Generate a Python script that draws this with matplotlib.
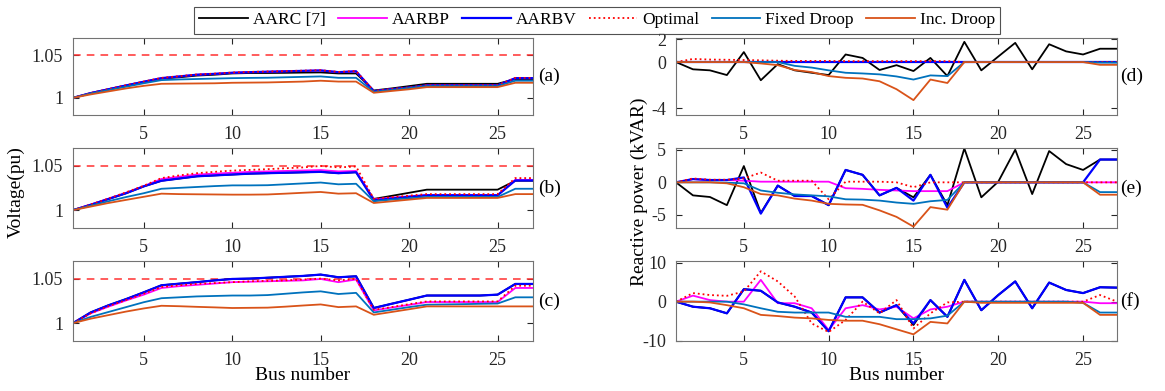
#!/usr/bin/env python3
# -*- coding:utf-8 -*-
import matplotlib
matplotlib.use('Agg')
import matplotlib.pyplot as plt

bus = list(range(1, 28))
names = ['AARC [7]', 'AARBP', 'AARBV', 'Optimal', 'Fixed Droop', 'Inc. Droop']

# voltage (pu), case (a)
va_aarc = [1.000, 1.0055, 1.010, 1.0143, 1.0185, 1.0225, 1.024, 1.026, 1.027, 1.0285, 1.029, 1.029, 1.0292, 1.0295,
           1.0297, 1.0285, 1.0285, 1.0086, 1.011, 1.0137, 1.0164, 1.0164, 1.0164, 1.0164, 1.0164, 1.022, 1.022]
va_aarbp = [1.000, 1.0055, 1.010, 1.0145, 1.0188, 1.023, 1.025, 1.027, 1.028, 1.0293, 1.030, 1.0305, 1.031, 1.0315,
            1.032, 1.030, 1.031, 1.0078, 1.010, 1.012, 1.0145, 1.0145, 1.0145, 1.0145, 1.0145, 1.023, 1.023]
va_aarbv = [1.000, 1.0055, 1.010, 1.0145, 1.0188, 1.023, 1.025, 1.027, 1.028, 1.0293, 1.030, 1.0305, 1.031, 1.0315,
            1.032, 1.030, 1.031, 1.0078, 1.010, 1.012, 1.0145, 1.0145, 1.0145, 1.0145, 1.0145, 1.023, 1.023]
va_opt = [1.000, 1.0056, 1.0102, 1.0147, 1.019, 1.0233, 1.0253, 1.0273, 1.0283, 1.0296, 1.0303, 1.0308, 1.0313,
          1.0318, 1.0323, 1.0303, 1.0313, 1.008, 1.0102, 1.0122, 1.0147, 1.0147, 1.0147, 1.0147, 1.0147, 1.0233, 1.0233]
va_fixed = [1.000, 1.005, 1.009, 1.013, 1.017, 1.0207, 1.0215, 1.022, 1.0225, 1.023, 1.0233, 1.0235, 1.024, 1.0245,
            1.025, 1.0234, 1.0234, 1.007, 1.009, 1.0115, 1.0137, 1.0137, 1.0137, 1.0137, 1.0137, 1.020, 1.020]
va_inc = [1.000, 1.004, 1.0075, 1.011, 1.014, 1.0164, 1.0166, 1.0168, 1.017, 1.0176, 1.0178, 1.018, 1.0185, 1.019,
          1.020, 1.019, 1.019, 1.0059, 1.008, 1.010, 1.0125, 1.0125, 1.0125, 1.0125, 1.0125, 1.0176, 1.0176]

# voltage (pu), case (b)
vb_aarc = [1.000, 1.006, 1.0125, 1.019, 1.0267, 1.033, 1.0355, 1.038, 1.039, 1.040, 1.041, 1.0415, 1.042, 1.0425,
           1.043, 1.0415, 1.0426, 1.0126, 1.016, 1.0195, 1.023, 1.023, 1.023, 1.023, 1.023, 1.033, 1.033]
vb_aarbp = [1.000, 1.0063, 1.0128, 1.0195, 1.027, 1.035, 1.0375, 1.040, 1.041, 1.042, 1.043, 1.0435, 1.044, 1.0445,
            1.045, 1.0435, 1.044, 1.012, 1.014, 1.0155, 1.017, 1.017, 1.017, 1.017, 1.017, 1.034, 1.034]
vb_aarbv = [1.000, 1.006, 1.0125, 1.019, 1.0267, 1.033, 1.0355, 1.038, 1.039, 1.040, 1.041, 1.0415, 1.042, 1.0425,
            1.043, 1.0415, 1.0426, 1.011, 1.013, 1.015, 1.0167, 1.0167, 1.0167, 1.0167, 1.0167, 1.0333, 1.0333]
vb_opt = [1.000, 1.0063, 1.013, 1.020, 1.0274, 1.036, 1.039, 1.0415, 1.043, 1.0444, 1.0452, 1.046, 1.047, 1.048,
          1.0496, 1.048, 1.049, 1.0126, 1.0145, 1.0163, 1.018, 1.018, 1.018, 1.018, 1.018, 1.036, 1.036]
vb_fixed = [1.000, 1.005, 1.010, 1.0147, 1.019, 1.024, 1.025, 1.026, 1.027, 1.0278, 1.0278, 1.028, 1.029, 1.030,
            1.031, 1.029, 1.0296, 1.010, 1.0118, 1.0133, 1.0148, 1.0148, 1.0148, 1.0148, 1.0148, 1.024, 1.024]
vb_inc = [1.000, 1.004, 1.008, 1.0115, 1.015, 1.0185, 1.018, 1.0178, 1.0176, 1.0174, 1.0174, 1.0176, 1.0185, 1.0195,
          1.0204, 1.0185, 1.019, 1.008, 1.0099, 1.0118, 1.0137, 1.0137, 1.0137, 1.0137, 1.0137, 1.018, 1.018]

# voltage (pu), case (c)
vc_aarc = [1.000, 1.012, 1.020, 1.027, 1.0346, 1.0425, 1.0443, 1.046, 1.048, 1.0496, 1.050, 1.051, 1.052, 1.053,
           1.0545, 1.0515, 1.0526, 1.017, 1.0217, 1.0263, 1.031, 1.031, 1.031, 1.031, 1.032, 1.044, 1.044]
vc_aarbp = [1.000, 1.011, 1.0185, 1.0255, 1.032, 1.0395, 1.0415, 1.043, 1.0445, 1.046, 1.0465, 1.047, 1.0475, 1.048,
            1.0496, 1.046, 1.049, 1.0143, 1.0175, 1.0205, 1.0237, 1.0237, 1.0237, 1.0237, 1.0237, 1.0395, 1.0395]
vc_aarbv = [1.000, 1.012, 1.020, 1.027, 1.0346, 1.0425, 1.0443, 1.046, 1.048, 1.0496, 1.050, 1.051, 1.052, 1.053,
            1.0545, 1.0515, 1.0526, 1.017, 1.0217, 1.0263, 1.031, 1.031, 1.031, 1.031, 1.032, 1.044, 1.044]
vc_opt = [1.000, 1.011, 1.019, 1.026, 1.033, 1.0406, 1.0425, 1.044, 1.045, 1.046, 1.047, 1.0475, 1.048, 1.049,
          1.050, 1.048, 1.0497, 1.015, 1.018, 1.0213, 1.0244, 1.0244, 1.0244, 1.0244, 1.0244, 1.042, 1.042]
vc_fixed = [1.000, 1.007, 1.0125, 1.018, 1.0235, 1.028, 1.029, 1.030, 1.0305, 1.031, 1.031, 1.0315, 1.033, 1.0345,
            1.0357, 1.0327, 1.034, 1.012, 1.015, 1.018, 1.0207, 1.021, 1.0213, 1.0217, 1.022, 1.029, 1.029]
vc_inc = [1.000, 1.005, 1.009, 1.013, 1.0165, 1.0195, 1.019, 1.0183, 1.0177, 1.017, 1.0172, 1.0174, 1.0185, 1.0198,
          1.021, 1.018, 1.0188, 1.0094, 1.0125, 1.0156, 1.0188, 1.0188, 1.0188, 1.0188, 1.0188, 1.0188, 1.0188]

# reactive power (kVAR), case (d)
qd_aarc = [0, -0.63, -0.72, -1.13, 0.87, -1.58, -0.18, -0.72, -0.93, -1.13, 0.66, 0.36, -0.69, -0.27, -0.78, 0.36,
           -1.22, 1.76, -0.72, 0.48, 1.67, -0.63, 1.55, 0.93, 0.66, 1.16, 1.16]
qd_aarbp = [0] * 27
qd_aarbv = [0] * 27
qd_opt = [0, 0.27, 0.22, 0.2, 0.18, 0.15, 0.12, 0.1, 0.1, 0.1, 0.08, 0.08, 0.08, 0.08, 0.08, 0.08, 0.08, 0, 0, 0, 0,
          0, 0, 0, 0, 0, 0]
qd_fixed = [0, 0, 0, 0, 0, 0, 0, -0.33, -0.48, -0.72, -0.93, -0.99, -1.07, -1.25, -1.52, -1.16, -1.22, 0, 0, 0, 0, 0,
            0, 0, 0, -0.05, -0.05]
qd_inc = [0, 0, 0, 0, 0, -0.12, -0.27, -0.69, -0.87, -1.22, -1.37, -1.43, -1.67, -2.36, -3.31, -1.52, -1.82, 0, 0, 0,
          0, 0, 0, 0, 0, -0.24, -0.24]

# reactive power (kVAR), case (e)
qe_aarc = [0, -2.0, -2.25, -3.5, 2.5, -4.7, -0.5, -2.1, -2.1, -3.5, 1.9, 1.15, -2.0, -0.85, -2.3, 1.15, -3.5, 5.2,
           -2.3, 0.1, 5.0, -1.8, 4.8, 2.8, 1.9, 3.5, 3.5]
qe_aarbp = [0, 0.5, 0.35, 0.35, 0.25, 0.1, 0.1, 0.1, 0.1, 0.1, -0.9, -1.0, -1.15, -1.25, -1.35, -1.35, -1.35, 0, 0,
            0, 0, 0, 0, 0, 0, 0, 0]
qe_aarbv = [0, 0.5, 0.35, 0.35, 0.75, -4.8, -0.5, -2.1, -2.1, -3.5, 1.9, 1.15, -2.0, -0.85, -2.8, 1.15, -3.9, 0, 0,
            0, 0, 0, 0, 0, 0, 3.5, 3.5]
qe_opt = [0, 0.6, 0.4, 0.4, 0.6, 1.5, 0.25, 0.25, 0.25, -2.6, 0.1, 0.1, 0.1, 0, -0.75, 0, 0, 0, 0, 0, 0, 0, 0, 0, 0,
          0, 0]
qe_fixed = [0, 0, 0, -0.05, -0.15, -1.25, -1.6, -1.85, -2.0, -2.15, -2.6, -2.65, -2.8, -3.1, -3.3, -2.9, -2.7, 0, 0,
            0, 0, 0, 0, 0, 0, -1.5, -1.5]
qe_inc = [0, 0, 0, -0.15, -0.75, -1.8, -2.0, -2.5, -2.8, -3.3, -3.4, -3.45, -4.3, -5.3, -6.8, -3.8, -4.2, 0, 0, 0, 0,
          0, 0, 0, 0, -1.9, -1.9]

# reactive power (kVAR), case (f)
qf_aarc = [0, -1.3, -1.7, -3.0, 3.2, 2.8, -0.2, -1.3, -2.8, -7.6, 1.1, 1.1, -2.8, -0.9, -6.0, 0.4, -3.9, 5.6, -2.2,
           1.7, 5.2, -1.7, 4.9, 3.0, 2.2, 3.7, 3.6]
qf_aarbp = [0, 1.55, 0.4, 0, 0, 5.6, -0.4, -0.4, -1.7, -7.3, -1.7, -0.9, -2.0, -1.3, -4.3, -2.0, -1.3, 0, 0, 0, 0, 0,
            0, 0, 0, -0.4, -0.4]
qf_aarbv = [0, -1.3, -1.7, -3.0, 3.2, 2.8, -0.2, -1.3, -2.8, -7.6, 1.1, 1.1, -2.8, -0.9, -5.6, 0.4, -3.9, 5.6, -2.2,
            1.7, 5.2, -1.7, 4.9, 3.0, 2.2, 3.7, 3.6]
qf_opt = [0, 2.2, 1.7, 1.5, 2.6, 7.8, 5.2, 1.3, -5.6, -7.8, -4.7, 0, -3.0, 0.4, -6.9, -3.0, -0.2, 0, 0, 0, 0, 0, 0, 0,
          0, 1.7, 0]
qf_fixed = [0, 0, 0, 0, -0.7, -1.7, -2.6, -2.8, -2.8, -2.8, -3.9, -3.9, -3.9, -4.5, -4.5, -4.3, -3.6, 0, 0, 0, 0, 0, 0,
            0, -0.3, -2.8, -2.8]
qf_inc = [0, 0, -0.2, -0.9, -1.7, -3.4, -3.7, -4.1, -4.3, -4.7, -4.9, -4.9, -5.8, -7.1, -8.4, -5.2, -5.6, 0, -0.3,
          -0.3, -0.3, -0.3, -0.3, -0.3, -0.3, -3.4, -3.4]


def draw(ax, series, tag, tag_dx):
    styles = [dict(color='black', lw=1.3, ls='-'),
              dict(color='magenta', lw=1.3, ls='-'),
              dict(color='blue', lw=1.6, ls='-'),
              dict(color='red', lw=1.3, ls=':'),
              dict(color='#0072BD', lw=1.3, ls='-'),
              dict(color='#D95319', lw=1.3, ls='-')]
    lines = []
    for s, st, nm in zip(series, styles, names):
        ln, = ax.plot(bus, s, label=nm, **st)
        lines.append(ln)
    ax.set_xlim(1, 27)
    ax.set_xticks([5, 10, 15, 20, 25])
    ax.tick_params(direction='in', top=True, right=True, labelsize=13, colors='0.15', length=4)
    ax.tick_params(axis='x', pad=8)
    ax.tick_params(axis='y', pad=7)
    for sp in ax.spines.values():
        sp.set_color('0.45')
    ax.text(1 + tag_dx, 0.5, tag, transform=ax.transAxes, va='center', ha='left', fontsize=14)
    return lines


def init():
    plt.rcParams['font.family'] = ['Liberation Serif', 'DejaVu Serif']
    plt.rcParams['axes.unicode_minus'] = False
    fig = plt.figure(figsize=(11.65, 3.91), dpi=100)

    rows = [(0.706, 0.197), (0.417, 0.205), (0.128, 0.205)]
    left_v, w_v = 73 / 1165, 460 / 1165
    left_q, w_q = 676 / 1165, 441 / 1165

    volts = [[va_aarc, va_aarbp, va_aarbv, va_opt, va_fixed, va_inc],
             [vb_aarc, vb_aarbp, vb_aarbv, vb_opt, vb_fixed, vb_inc],
             [vc_aarc, vc_aarbp, vc_aarbv, vc_opt, vc_fixed, vc_inc]]
    qs = [[qd_aarc, qd_aarbp, qd_aarbv, qd_opt, qd_fixed, qd_inc],
          [qe_aarc, qe_aarbp, qe_aarbv, qe_opt, qe_fixed, qe_inc],
          [qf_aarc, qf_aarbp, qf_aarbv, qf_opt, qf_fixed, qf_inc]]
    q_lims = [(-4.6, 2.1), (-7.0, 5.3), (-10.1, 10.5)]
    q_ticks = [[-4, 0, 2], [-5, 0, 5], [-10, 0, 10]]

    lines = None
    for i, (b, h) in enumerate(rows):
        ax = fig.add_axes([left_v, b, w_v, h])
        ax.axhline(1.05, color='#FF3030', ls='--', lw=1.1, dashes=(5, 4))
        lines = draw(ax, volts[i], '(' + 'abc'[i] + ')', 0.012)
        ax.set_ylim(0.98, 1.07)
        ax.set_yticks([1, 1.05])
        ax.set_yticklabels(['1', '1.05'])
        if i == 2:
            ax.set_xlabel('Bus number', fontsize=14)
            ax.xaxis.set_label_coords(0.5, -0.33)

        ax2 = fig.add_axes([left_q, b, w_q, h])
        draw(ax2, qs[i], '(' + 'def'[i] + ')', 0.008)
        ax2.set_ylim(*q_lims[i])
        ax2.set_yticks(q_ticks[i])
        if i == 2:
            ax2.set_xlabel('Bus number', fontsize=14)
            ax2.xaxis.set_label_coords(0.5, -0.33)

    fig.text(0.014, 0.51, 'Voltage(pu)', rotation=90, va='center', ha='center', fontsize=14)
    fig.text(0.549, 0.51, 'Reactive power (kVAR)', rotation=90, va='center', ha='center', fontsize=14)

    leg = fig.legend(lines, names, loc='upper left', bbox_to_anchor=(194 / 1165, 1 - 7 / 391), borderaxespad=0,
                     ncol=6, fontsize=12.5, frameon=True, fancybox=False, edgecolor='0.15', handlelength=2.8,
                     handletextpad=0.28, columnspacing=0.72, borderpad=0.3)
    leg.get_frame().set_linewidth(0.8)

    plt.savefig('out.png', dpi=100)


if __name__ == '__main__':
    init()
